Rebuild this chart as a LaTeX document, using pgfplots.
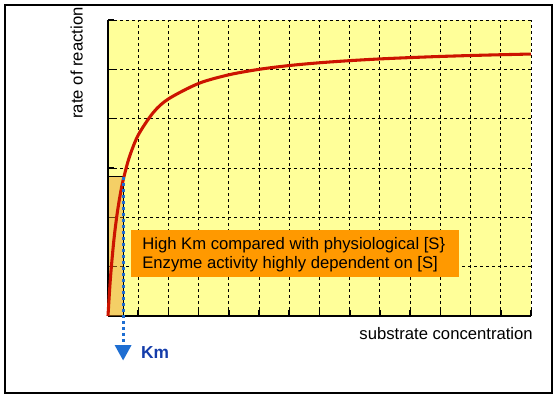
\documentclass[border=0pt]{standalone}
\usepackage{pgfplots}
\pgfplotsset{compat=1.18}
\usepackage{fontspec}
\setmainfont{Liberation Sans}
\definecolor{bgyellow}{RGB}{255,255,153}
\definecolor{curvered}{RGB}{204,20,0}
\definecolor{boxorange}{RGB}{255,153,0}
\definecolor{hatch}{RGB}{232,150,40}
\definecolor{arrowblue}{RGB}{30,110,210}
\definecolor{kmblue}{RGB}{20,60,170}
\begin{document}
\begin{tikzpicture}
\fontsize{12.5}{15}\selectfont
\path (0,0) rectangle (420pt,299.25pt);
\draw[line width=0.9pt] (3.75pt,4.5pt) rectangle (414pt,295.5pt);
\begin{axis}[
  at={(81pt,62.25pt)}, anchor=south west,
  scale only axis, width=317.25pt, height=222pt,
  xmin=0, xmax=14, ymin=0, ymax=6,
  xtick={0,...,14}, ytick={0,...,6},
  xticklabels={}, yticklabels={},
  axis x line=bottom, axis y line=left,
  axis line style={-, line width=1.6pt},
  tick align=inside, major tick length=4.5pt,
  tick style={black, line width=1.2pt},
  grid=major,
  major grid style={black, line width=0.7pt, dash pattern=on 2.25pt off 2.25pt},
  axis background/.style={fill=bgyellow},
  clip=false,
]
\fill[fill=hatch, fill opacity=0.45] (axis cs:0,0) rectangle (axis cs:0.5,2.82);
\draw[line width=0.7pt] (axis cs:0,0) rectangle (axis cs:0.5,2.82);
\addplot[curvered, line width=2.3pt, smooth] coordinates {
(0,0) (0.05,0.5) (0.1,0.917) (0.2,1.571) (0.3,2.063) (0.4,2.444) (0.5,2.75)
(0.7,3.208) (1.0,3.667) (1.5,4.125) (2,4.4) (3,4.714) (4,4.889) (5,5.0)
(6,5.077) (7,5.133) (8,5.176) (9,5.211) (10,5.238) (11,5.261) (12,5.28)
(13,5.296) (14,5.31)};
\draw[arrowblue, line width=2.25pt, dash pattern=on 2.25pt off 2.25pt] (axis cs:0.5,2.82) -- (axis cs:0.5,-0.6);
\fill[arrowblue] (axis cs:0.22,-0.59) -- (axis cs:0.78,-0.59) -- (axis cs:0.5,-0.9) -- cycle;
\fill[boxorange] (axis cs:0.76,0.79) rectangle (axis cs:11.62,1.74);
\node[anchor=base west, inner sep=0pt] at (axis cs:1.126,1.34) {High Km compared with physiological [S\}};
\node[anchor=base west, inner sep=0pt] at (axis cs:1.126,0.955) {Enzyme activity highly dependent on [S]};
\end{axis}
\node[rotate=90] at (57.5pt,252pt) {rate of reaction};
\node[anchor=east, inner sep=0pt] at (399.75pt,48.75pt) {substrate concentration};
\node[text=kmblue, font=\fontsize{13}{15}\selectfont\bfseries] at (116.25pt,34.5pt) {Km};
\end{tikzpicture}
\end{document}
